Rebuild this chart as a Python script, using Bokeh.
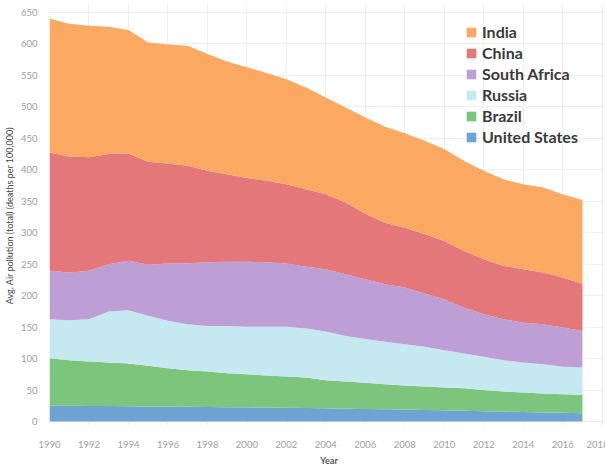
from bokeh.plotting import figure
from bokeh.models import ColumnDataSource, Legend, LegendItem, FixedTicker, Range1d
from bokeh.embed import file_html
from bokeh.resources import INLINE

years = list(range(1990, 2018))

united_states = [25, 25, 24.8, 24.5, 24.3, 24, 23.8, 23.5, 23.2, 22.8, 22.5, 22.2, 22, 21.5,
                 21, 20.5, 20, 19.5, 19, 18.3, 17.8, 17.2, 16.5, 15.8, 15.2, 14.5, 13.8, 13.2]
brazil = [75.7, 72.5, 70.6, 69.3, 67.9, 64.5, 61, 58.1, 56.3, 54, 52.8, 50.8, 49.5, 48.5,
          44.7, 43.1, 41.5, 39.8, 38.2, 37.3, 36.2, 35.8, 33.8, 31.9, 30.8, 30, 29.6, 29.2]
russia = [62, 63.5, 67.3, 81.2, 84.8, 79.5, 75.2, 73.1, 72.5, 75.2, 75.2, 77.5, 79, 78,
          77.3, 72.4, 69.5, 67.3, 65.8, 63.1, 59.4, 55, 52.5, 49.8, 47.8, 46.5, 43.6, 43.6]
south_africa = [76.8, 76, 76.8, 75, 78.5, 81, 91, 96.8, 101, 102, 103.5, 102.5, 100.5, 98,
                99, 98, 95, 91.4, 90, 84.8, 81.1, 73, 67.8, 65.2, 63.2, 63.7, 62.4, 58]
china = [188.2, 184, 180.5, 175, 170.5, 164, 159, 155, 145.5, 139, 133, 129.6, 126, 123,
         119, 114, 104, 98, 95, 94.5, 92.5, 90, 87.4, 84.8, 85, 82.3, 79.6, 75]
india = [212.3, 211, 209, 202.5, 196, 189.5, 189, 190.5, 185.5, 179, 176, 171.4, 167, 162,
         154, 151, 153, 152.5, 150, 148, 146, 143, 140.5, 137.5, 135, 135, 132, 133]

countries = ["United States", "Brazil", "Russia", "South Africa", "China", "India"]
colors = ["#6fa3d2", "#7dc47c", "#c6e8f0", "#bd9fd5", "#e47779", "#faa862"]

x_ticks = list(range(1990, 2020, 2))
y_ticks = list(range(0, 700, 50))

source = ColumnDataSource(data={
    "year": years,
    "United States": united_states,
    "Brazil": brazil,
    "Russia": russia,
    "South Africa": south_africa,
    "China": china,
    "India": india,
})

p = figure(frame_width=559, frame_height=422,
           min_border_left=38, min_border_right=0, min_border_top=4, min_border_bottom=32,
           x_range=Range1d(1990, 2018.32), y_range=Range1d(-7.9, 662.7),
           output_backend="svg", toolbar_location=None)

renderers = p.varea_stack(stackers=countries, x="year", color=colors, source=source)

items = [LegendItem(label=name, renderers=[r]) for name, r in zip(countries, renderers)]
items.reverse()
legend = Legend(items=items, location=(416, 280), margin=0, padding=5,
                label_text_font="Lato", label_text_font_style="bold",
                label_text_font_size="16px", label_text_color="#3a3a3a",
                glyph_width=12, glyph_height=12, label_height=17, spacing=2,
                label_standoff=5, border_line_color=None, background_fill_alpha=0)
p.add_layout(legend)

p.outline_line_color = None
p.background_fill_color = "white"

p.xaxis.ticker = FixedTicker(ticks=x_ticks)
p.yaxis.ticker = FixedTicker(ticks=y_ticks)
for ax in (p.xaxis[0], p.yaxis[0]):
    ax.axis_line_color = None
    ax.major_tick_line_color = None
    ax.minor_tick_line_color = None
    ax.major_label_text_font = "Lato"
    ax.major_label_text_font_size = "9.5px"
    ax.major_label_text_color = "#a0a0a0"
    ax.axis_label_text_font = "Lato"
    ax.axis_label_text_color = "#555555"
    ax.axis_label_text_font_style = "bold"

p.xaxis.axis_label = "Year"
p.xaxis.axis_label_text_font_size = "9px"
p.xaxis.major_label_standoff = 8
p.xaxis.axis_label_standoff = 4
p.yaxis.axis_label = "Avg. Air pollution (total) (deaths per 100,000)"
p.yaxis.axis_label_text_font_size = "9px"
p.yaxis.axis_label_text_font_style = "normal"
p.yaxis.axis_label_text_color = "#444444"
p.yaxis.major_label_standoff = 6
p.yaxis.axis_label_standoff = 3

p.xgrid.grid_line_color = "#f0f0f0"
p.ygrid.grid_line_color = "#f0f0f0"
p.xgrid.level = "underlay"
p.ygrid.level = "underlay"

open("out.html", "w").write(file_html(p, INLINE))
